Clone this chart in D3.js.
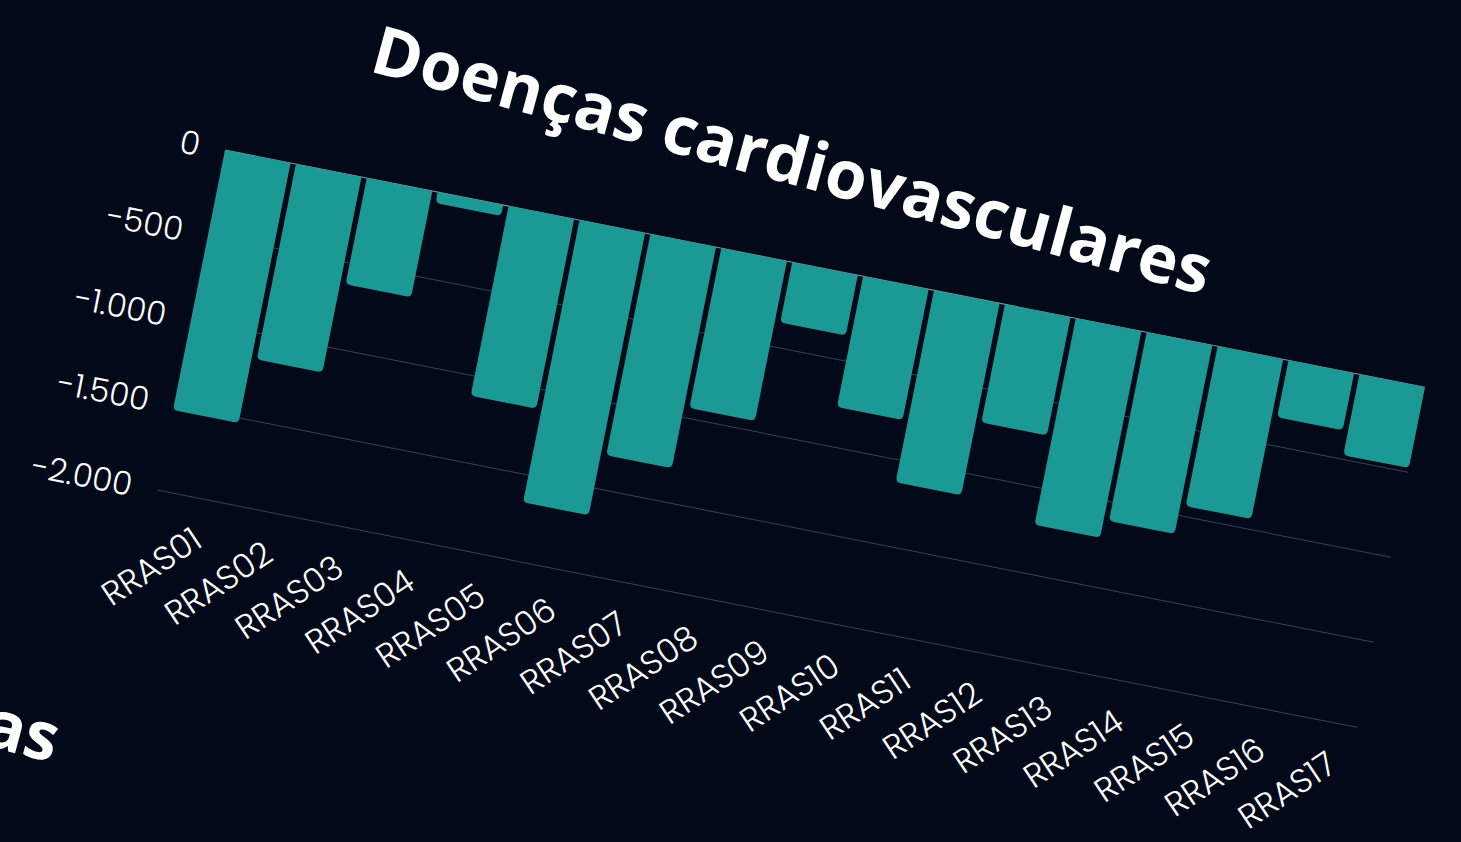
<!DOCTYPE html>
<meta charset="utf-8">
<head>
  <title>Doenças cardiovasculares</title>
  <script src="https://cdn.jsdelivr.net/npm/d3@7"></script>
  <style>
    html, body { margin: 0; padding: 0; background: #020a1a; overflow: hidden; }
    .tick-label { font-family: Poppins, Inter, sans-serif; font-weight: 300; fill: #ffffff; }
    .title { font-family: "Open Sans", sans-serif; font-weight: 700; fill: #ffffff; }
  </style>
</head>
<body>
  <svg id="chart"></svg>
  <script>
    // values (deaths delta per RRAS region)
    var regions = ["RRAS01", "RRAS02", "RRAS03", "RRAS04", "RRAS05", "RRAS06", "RRAS07", "RRAS08", "RRAS09",
                   "RRAS10", "RRAS11", "RRAS12", "RRAS13", "RRAS14", "RRAS15", "RRAS16", "RRAS17"];
    var values = [-1530, -1150, -625, -65, -1115, -1660, -1300, -940, -355,
                  -770, -1130, -695, -1215, -1110, -940, -335, -475];
    var yTicks = [0, -500, -1000, -1500, -2000];
    var titleText = "Doenças cardiovasculares";
    var nextTitleText = "Doenças respiratórias";

    var width = 1461, height = 842;
    var plotW = 1200, plotH = 340;

    var svg = d3.select("#chart")
        .attr("width", width)
        .attr("height", height);

    svg.append("rect")
        .attr("width", width)
        .attr("height", height)
        .attr("fill", "#020a1a");

    var ptBR = d3.formatLocale({ decimal: ",", thousands: ".", grouping: [3], currency: ["R$", ""], minus: "-" });
    var fmt = ptBR.format(",");

    // the whole chart is drawn flat and then sheared/rotated like the slide in the picture
    var g = svg.append("g")
        .attr("transform", "matrix(1,0.1978,-0.2,1,225,150)");

    var x = d3.scaleBand()
        .domain(regions)
        .range([0, plotW])
        .paddingInner(0.075)
        .paddingOuter(0);

    var y = d3.scaleLinear()
        .domain([0, -2000])
        .range([0, plotH]);

    g.selectAll(".grid")
      .data(yTicks)
      .enter().append("line")
        .attr("class", "grid")
        .attr("x1", 0)
        .attr("x2", plotW)
        .attr("y1", function(d) { return y(d); })
        .attr("y2", function(d) { return y(d); })
        .attr("stroke", function(d) { return d === 0 ? "#8d939c" : "#3b414d"; })
        .attr("stroke-width", 1);

    function barPath(x0, w, h) {
      var r = Math.min(5, h / 2);
      return "M" + x0 + ",0H" + (x0 + w) + "V" + (h - r) +
             "Q" + (x0 + w) + "," + h + " " + (x0 + w - r) + "," + h +
             "H" + (x0 + r) + "Q" + x0 + "," + h + " " + x0 + "," + (h - r) + "Z";
    }

    g.selectAll(".bar")
      .data(values)
      .enter().append("path")
        .attr("class", "bar")
        .attr("d", function(d, i) { return barPath(x(regions[i]), x.bandwidth(), y(d) - y(0)); })
        .attr("fill", "#1b9a95");

    g.selectAll(".ylabel")
      .data(yTicks)
      .enter().append("text")
        .attr("class", "tick-label ylabel")
        .attr("x", -25)
        .attr("y", function(d) { return y(d); })
        .attr("dy", "0.35em")
        .attr("text-anchor", "end")
        .style("font-size", "32px")
        .text(function(d) { return fmt(d); });

    g.selectAll(".xlabel")
      .data(regions)
      .enter().append("text")
        .attr("class", "tick-label xlabel")
        .attr("transform", function(d) {
          return "translate(" + (x(d) + x.bandwidth() / 2 + 15) + "," + (plotH + 36) + ") rotate(-45)";
        })
        .attr("dy", "0.35em")
        .attr("text-anchor", "end")
        .style("font-size", "33px")
        .text(function(d) { return d; });

    // title sits on its own, slightly steeper
    var title = svg.append("text")
        .attr("class", "title")
        .attr("transform", "matrix(1,0.268,-0.27,1,368,71)")
        .style("font-size", "64px")
        .text(titleText);
    var tw = title.node().getComputedTextLength();
    var titleSize = 64 * 836 / tw;
    title.style("font-size", titleSize + "px");

    // the following slide's title peeks in at the lower left
    svg.append("text")
        .attr("class", "title")
        .attr("transform", "matrix(1,0.268,-0.27,1,52,763)")
        .attr("text-anchor", "end")
        .style("font-size", titleSize + "px")
        .text(nextTitleText);
  </script>
</body>
